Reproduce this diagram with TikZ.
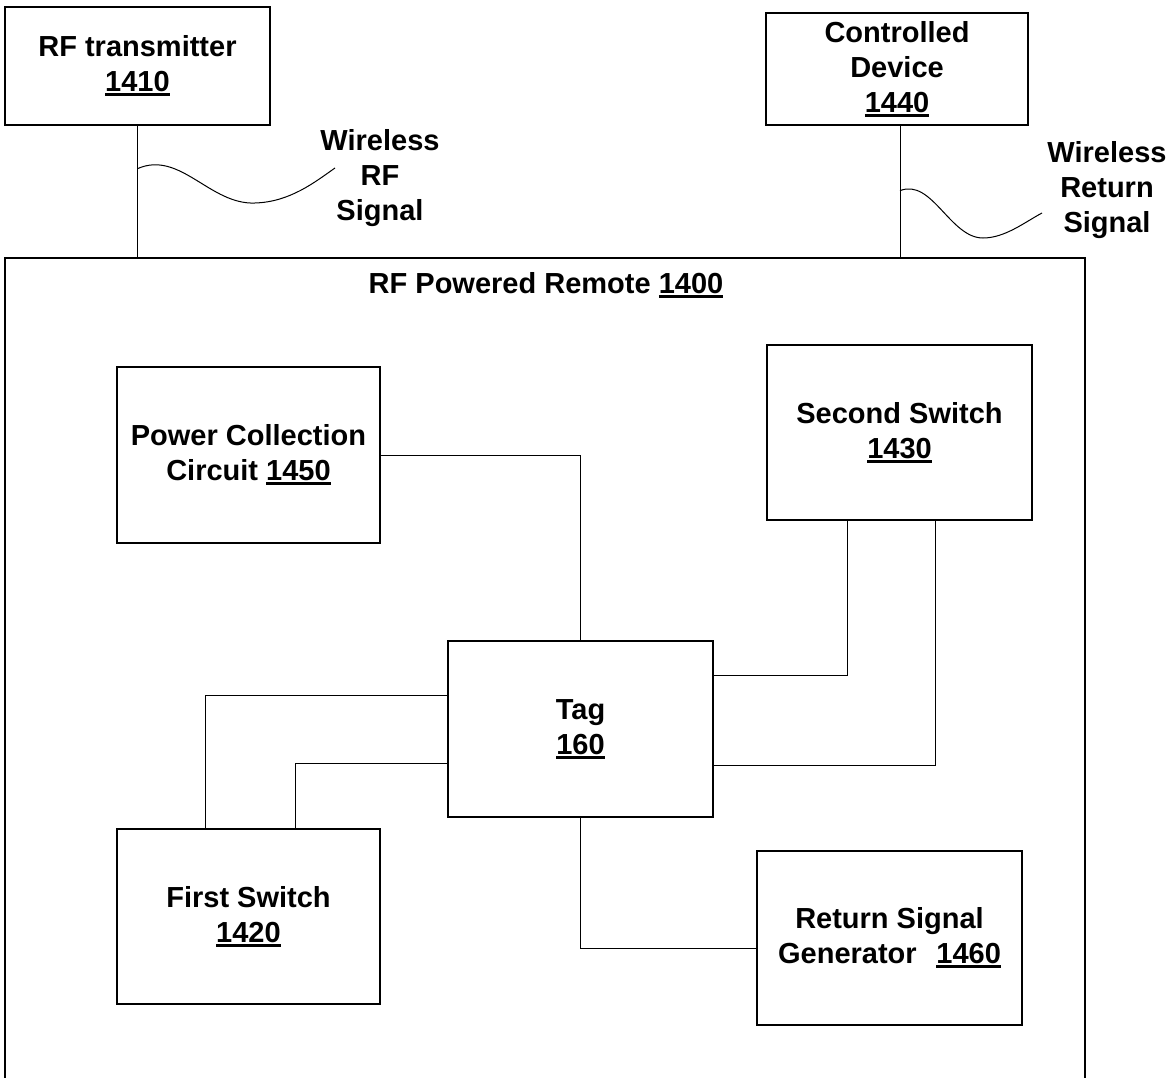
\documentclass[tikz,border=0pt]{standalone}
\usepackage{fontspec}
\setmainfont{Liberation Sans}
\newcommand{\ulnum}[1]{\setbox0\hbox{#1}\rlap{\rule[-4.5pt]{\wd0}{3pt}}\box0}
\begin{document}
\begin{tikzpicture}[x=1pt, y=-1pt,
        block/.style = {draw, line width=1.3pt, inner sep=0pt, align=center},
        link/.style = {line width=1pt},
        font = \fontsize{29}{35}\selectfont\bfseries]
        \useasboundingbox (0,0) rectangle (1175,1078);

        % Outside
        \node[block, minimum width=265, minimum height=118] (tx) at (137.5,66) {RF transmitter\\\ulnum{1410}};
        \node[block, minimum width=262, minimum height=112] (cd) at (897,69) {Controlled\\Device\\\ulnum{1440}};
        \node[align=center] (rflabel) at (380,178) {Wireless\\RF\\Signal};
        \node[align=center] (retlabel) at (1107,190) {Wireless\\Return\\Signal};

        % Remote
        \node[block, minimum width=1080, minimum height=842] (remote) at (545,679) {};
        \node (title) at (546,285) {RF Powered Remote \ulnum{1400}};
        \node[block, minimum width=263, minimum height=176] (pcc) at (248.5,455) {Power Collection\\Circuit \ulnum{1450}};
        \node[block, minimum width=265, minimum height=175] (ss) at (899.5,432.5) {Second Switch\\\ulnum{1430}};
        \node[block, minimum width=265, minimum height=176] (tag) at (580.5,729) {Tag\\\ulnum{160}};
        \node[block, minimum width=263, minimum height=175] (fs) at (248.5,916.5) {First Switch\\\ulnum{1420}};
        \node[block, minimum width=265, minimum height=174] (rsg) at (889.5,938) {Return Signal\\Generator\hspace{0.4em} \ulnum{1460}};

        % Edge
        \draw[link] (tx.south) -- (tx.south |- remote.north);
        \draw[link] ([xshift=3pt]cd.south) -- ([xshift=3pt]cd.south |- remote.north);
        \path (tx.south) ++(0,43) coordinate (rfwave);
        \path ([xshift=3pt]cd.south) ++(0,65) coordinate (retwave);
        \draw[link] (rfwave) .. controls (180,150) and (210,205) .. (255,203) .. controls (290,202) and (315,182) .. (335,168);
        \draw[link] (retwave) .. controls (932,178) and (950,238) .. (983,238) .. controls (1005,238) and (1025,222) .. (1042,213);

        \draw[link] (pcc.east) -| (tag.north);
        \draw[link] ([xshift=-52.5pt]ss.south) |- ([yshift=54pt]tag.east);
        \draw[link] ([xshift=35.5pt]ss.south) |- ([yshift=-36pt]tag.east);
        \draw[link] ([xshift=-43.5pt]fs.north) |- ([yshift=34pt]tag.west);
        \draw[link] ([xshift=46.5pt]fs.north) |- ([yshift=-34pt]tag.west);
        \draw[link] (tag.south) |- ([yshift=-10pt]rsg.west);
\end{tikzpicture}
\end{document}
